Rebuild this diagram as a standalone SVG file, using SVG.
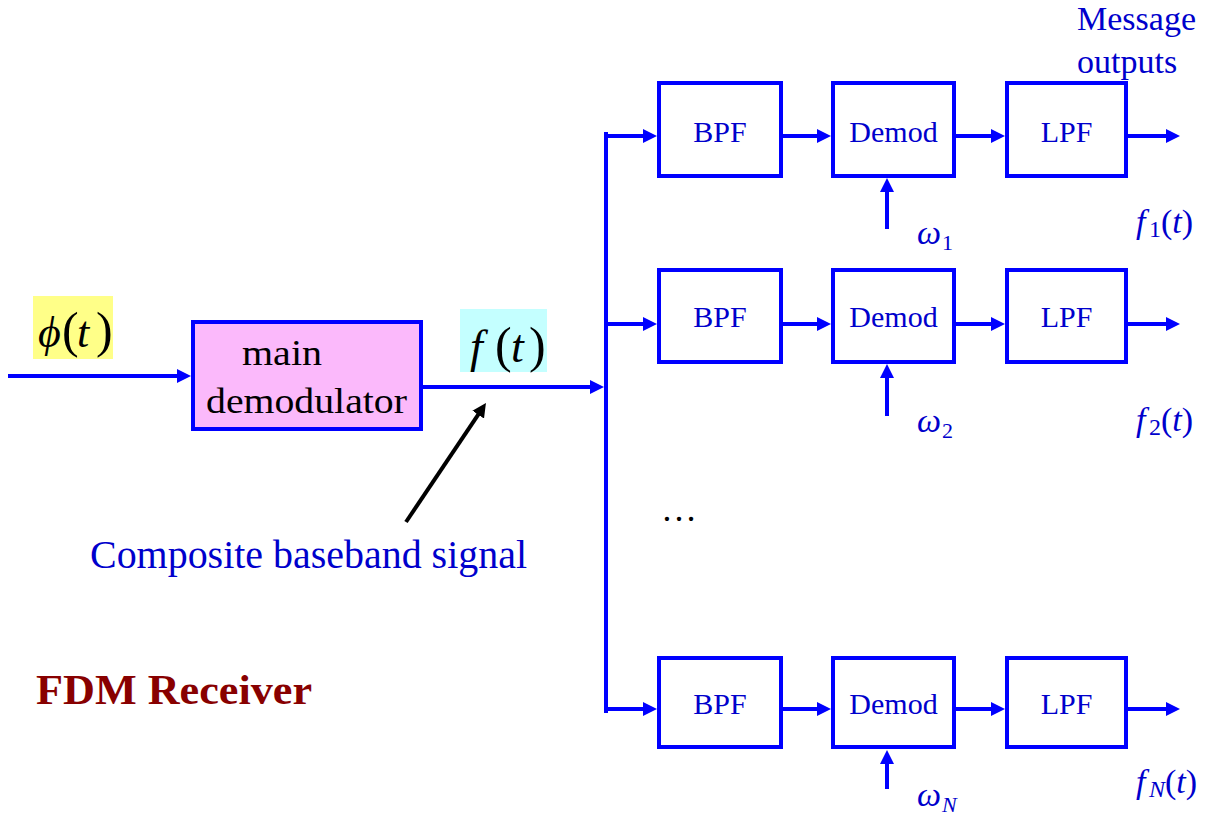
<svg xmlns="http://www.w3.org/2000/svg" width="1224" height="826" viewBox="0 0 1224 826">
<style>
.box{fill:#fff;stroke:#0000FF;stroke-width:4}
.lbl{font-family:"Liberation Serif","Times New Roman",serif;font-size:30px;fill:#0000CC;text-anchor:middle}
.math{font-family:"Liberation Serif","Times New Roman",serif;fill:#0000CC}
.it{font-style:italic}
.wire{fill:none;stroke:#0000FF;stroke-width:4}
.arr{marker-end:url(#ah)}
</style>
<defs>
<marker id="ah" markerUnits="userSpaceOnUse" markerWidth="14" markerHeight="14" refX="4" refY="7" orient="auto" viewBox="0 0 14 14">
<path d="M0,0 L14,7 L0,14 z" fill="#0000FF"/>
</marker>
<marker id="ahk" markerUnits="userSpaceOnUse" markerWidth="14" markerHeight="14" refX="4" refY="7" orient="auto" viewBox="0 0 14 14">
<path d="M0,0 L14,7 L0,14 z" fill="#000"/>
</marker>
</defs>
<rect width="1224" height="826" fill="#fff"/>

<g id="connectors">
<path class="wire arr" d="M8,376 H181"/>
<path class="wire arr" d="M423,387 H594"/>
<path class="wire" d="M606,134 V711" stroke-linecap="square"/>
<path class="wire arr" d="M606,136 H647"/>
<path class="wire arr" d="M606,324 H647"/>
<path class="wire arr" d="M606,709 H647"/>
<path class="wire arr" d="M783,136 H821"/>
<path class="wire arr" d="M956,136 H995"/>
<path class="wire arr" d="M1128,136 H1170"/>
<path class="wire arr" d="M887,229 V188"/>
<path class="wire arr" d="M783,324 H821"/>
<path class="wire arr" d="M956,324 H995"/>
<path class="wire arr" d="M1128,324 H1170"/>
<path class="wire arr" d="M887,416 V374"/>
<path class="wire arr" d="M783,709 H821"/>
<path class="wire arr" d="M956,709 H995"/>
<path class="wire arr" d="M1128,709 H1170"/>
<path class="wire arr" d="M887,789 V760"/>
<path d="M406,522 L480.4,411.3" fill="none" stroke="#000" stroke-width="4" marker-end="url(#ahk)"/>
</g>

<g id="phi-label">
<rect x="33" y="296" width="80" height="63" fill="#FFFF88"/>
<text y="347" font-family="Liberation Serif,Times New Roman,serif" font-size="44" fill="#000"><tspan x="38" font-style="italic">ϕ</tspan><tspan x="62" font-size="50">(</tspan><tspan x="77" font-style="italic">t</tspan><tspan x="96" font-size="50">)</tspan></text>
</g>

<g id="main-demodulator">
<rect x="193" y="322" width="228" height="107" fill="#FBB9FB" stroke="#0000FF" stroke-width="4"/>
<text x="242" y="365" font-family="Liberation Serif,Times New Roman,serif" font-size="35" fill="#000" textLength="80" lengthAdjust="spacingAndGlyphs">main</text>
<text x="206" y="413" font-family="Liberation Serif,Times New Roman,serif" font-size="35" fill="#000" textLength="201" lengthAdjust="spacingAndGlyphs">demodulator</text>
</g>

<g id="f-label">
<rect x="460" y="309" width="87" height="63" fill="#C4FFFF"/>
<text y="362" font-family="Liberation Serif,Times New Roman,serif" font-size="46" fill="#000"><tspan x="470" font-style="italic">f</tspan><tspan x="495" font-size="50">(</tspan><tspan x="511" font-style="italic">t</tspan><tspan x="529" font-size="50">)</tspan></text>
</g>

<g id="bpf1"><rect class="box" x="659" y="83" width="122" height="93"/><text class="lbl" x="720" y="142">BPF</text></g>
<g id="demod1"><rect class="box" x="833" y="83" width="121" height="93"/><text class="lbl" x="893.5" y="142">Demod</text></g>
<g id="lpf1"><rect class="box" x="1007" y="83" width="119" height="93"/><text class="lbl" x="1066.5" y="142">LPF</text></g>

<g id="bpf2"><rect class="box" x="659" y="270" width="122" height="92"/><text class="lbl" x="720" y="327">BPF</text></g>
<g id="demod2"><rect class="box" x="833" y="270" width="121" height="92"/><text class="lbl" x="893.5" y="327">Demod</text></g>
<g id="lpf2"><rect class="box" x="1007" y="270" width="119" height="92"/><text class="lbl" x="1066.5" y="327">LPF</text></g>

<g id="bpfN"><rect class="box" x="659" y="658" width="122" height="89"/><text class="lbl" x="720" y="714">BPF</text></g>
<g id="demodN"><rect class="box" x="833" y="658" width="121" height="89"/><text class="lbl" x="893.5" y="714">Demod</text></g>
<g id="lpfN"><rect class="box" x="1007" y="658" width="119" height="89"/><text class="lbl" x="1066.5" y="714">LPF</text></g>

<g id="labels">
<text class="math" x="1077" y="30" font-size="34">Message</text>
<text class="math" x="1077" y="73" font-size="34">outputs</text>

<text class="math" y="244" font-size="34"><tspan x="917" class="it">ω</tspan><tspan x="942" dy="6" font-size="22">1</tspan></text>
<text class="math" y="432" font-size="34"><tspan x="917" class="it">ω</tspan><tspan x="942" dy="6" font-size="22">2</tspan></text>
<text class="math" y="806" font-size="34"><tspan x="917" class="it">ω</tspan><tspan x="942" dy="6" font-size="22" class="it">N</tspan></text>

<text class="math" y="233" font-size="34"><tspan x="1136" class="it">f</tspan><tspan x="1149" dy="4" font-size="24">1</tspan><tspan dy="-4">(</tspan><tspan class="it">t</tspan><tspan>)</tspan></text>
<text class="math" y="431" font-size="34"><tspan x="1136" class="it">f</tspan><tspan x="1149" dy="4" font-size="24">2</tspan><tspan dy="-4">(</tspan><tspan class="it">t</tspan><tspan>)</tspan></text>
<text class="math" y="793" font-size="34"><tspan x="1136" class="it">f</tspan><tspan x="1149" dy="4" font-size="24" class="it">N</tspan><tspan dy="-4">(</tspan><tspan class="it">t</tspan><tspan>)</tspan></text>

<text x="661" y="521" font-family="Liberation Serif,Times New Roman,serif" font-size="36" fill="#000">…</text>
<text class="math" x="90" y="568" font-size="40" textLength="437" lengthAdjust="spacingAndGlyphs">Composite baseband signal</text>
<text x="36" y="704" font-family="Liberation Serif,Times New Roman,serif" font-size="43" font-weight="bold" fill="#880000" textLength="276" lengthAdjust="spacingAndGlyphs">FDM Receiver</text>
</g>
</svg>
